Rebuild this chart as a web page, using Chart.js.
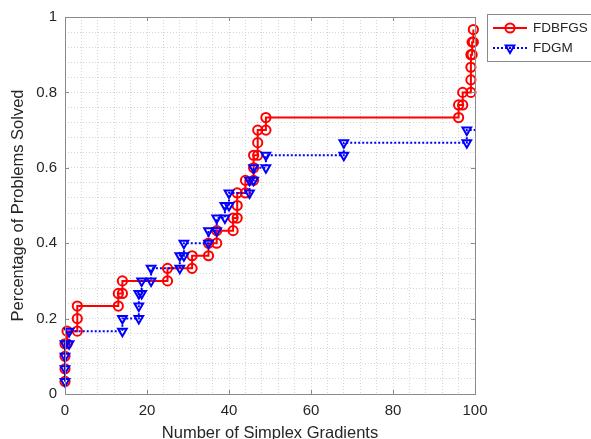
<!DOCTYPE html>
<html>
<head>
<meta charset="utf-8">
<script src="https://cdn.jsdelivr.net/npm/chart.js@4.4.1/dist/chart.umd.min.js"></script>
<style>
  html, body { margin: 0; padding: 0; background: #fff; }
  #wrap { width: 591px; height: 439px; }
</style>
</head>
<body>
<div id="wrap"><canvas id="perfChart" width="591" height="439"></canvas></div>
<script>
// stair corners of the two profiles
const fdbfgsX = [0, 0, 0, 0, 0.5, 0.5, 3, 3, 3, 13, 13, 14, 14, 25, 25, 31, 31, 35, 35, 37, 37, 41, 41, 42, 42, 42, 44, 44, 46, 46, 46, 47, 47, 47, 49, 49, 96, 96, 97, 97, 99, 99, 99, 99, 99.3, 99.3, 99.6, 99.6];
const fdbfgsY = [0.0333, 0.0667, 0.1, 0.1333, 0.1333, 0.1667, 0.1667, 0.2, 0.2333, 0.2333, 0.2667, 0.2667, 0.3, 0.3, 0.3333, 0.3333, 0.3667, 0.3667, 0.4, 0.4, 0.4333, 0.4333, 0.4667, 0.4667, 0.5, 0.5333, 0.5333, 0.5667, 0.5667, 0.6, 0.6333, 0.6333, 0.6667, 0.7, 0.7, 0.7333, 0.7333, 0.7667, 0.7667, 0.8, 0.8, 0.8333, 0.8667, 0.9, 0.9, 0.9333, 0.9333, 0.9667];

const fdgmX = [0, 0, 0, 0, 1, 1, 14, 14, 18, 18, 18, 18.7, 18.7, 21, 21, 28, 28, 29, 29, 35, 35, 37, 37, 39, 39, 40, 40, 45, 45, 46, 46, 49, 49, 68, 68, 98, 98, 100];
const fdgmY = [0.0333, 0.0667, 0.1, 0.1333, 0.1333, 0.1667, 0.1667, 0.2, 0.2, 0.2333, 0.2667, 0.2667, 0.3, 0.3, 0.3333, 0.3333, 0.3667, 0.3667, 0.4, 0.4, 0.4333, 0.4333, 0.4667, 0.4667, 0.5, 0.5, 0.5333, 0.5333, 0.5667, 0.5667, 0.6, 0.6, 0.6333, 0.6333, 0.6667, 0.6667, 0.7, 0.7];

const xTickLabels = [0, 20, 40, 60, 80, 100];
const yTickLabels = [0, 0.2, 0.4, 0.6, 0.8, 1];

const FONT = '"Liberation Sans", Arial, Helvetica, sans-serif';
const AXIS_GRAY = '#8a8a8a';
Chart.defaults.font.family = FONT;
Chart.defaults.color = '#262626';

const toPoints = (xs, ys) => xs.map((x, i) => ({ x: x, y: ys[i] }));
const isMajor = (v, list) => list.some(t => Math.abs(t - v) < 1e-6);

// box around the axes, inward major ticks and the legend
const framePlugin = {
  id: 'frame',
  afterDraw(chart) {
    const { ctx, chartArea: a, scales } = chart;
    ctx.save();
    ctx.strokeStyle = AXIS_GRAY;
    ctx.lineWidth = 1;
    ctx.setLineDash([]);
    ctx.strokeRect(Math.round(a.left) + 0.5, Math.round(a.top) + 0.5,
                   Math.round(a.right - a.left), Math.round(a.bottom - a.top));
    ctx.beginPath();
    xTickLabels.forEach(v => {
      const px = Math.round(scales.x.getPixelForValue(v)) + 0.5;
      ctx.moveTo(px, a.bottom); ctx.lineTo(px, a.bottom - 4);
      ctx.moveTo(px, a.top); ctx.lineTo(px, a.top + 4);
    });
    yTickLabels.forEach(v => {
      const py = Math.round(scales.y.getPixelForValue(v)) + 0.5;
      ctx.moveTo(a.left, py); ctx.lineTo(a.left + 4, py);
      ctx.moveTo(a.right, py); ctx.lineTo(a.right - 4, py);
    });
    ctx.stroke();

    // legend
    const lx = 487.5, ly = 14.5;
    ctx.fillStyle = '#fff';
    ctx.fillRect(lx, ly, 120, 47);
    ctx.strokeStyle = AXIS_GRAY;
    ctx.strokeRect(lx, ly, 120, 47);
    ctx.font = '13.5px ' + FONT;
    ctx.textBaseline = 'middle';
    chart.data.datasets.forEach((ds, i) => {
      const y = 28 + i * 20;
      ctx.strokeStyle = ds.borderColor;
      ctx.lineWidth = ds.borderWidth;
      ctx.setLineDash(ds.borderDash || []);
      ctx.beginPath();
      ctx.moveTo(493, y); ctx.lineTo(527, y);
      ctx.stroke();
      ctx.setLineDash([]);
      ctx.fillStyle = 'rgba(0,0,0,0)';
      ctx.lineWidth = ds.pointBorderWidth;
      Chart.helpers.drawPoint(ctx, {
        pointStyle: ds.pointStyle, rotation: ds.pointRotation,
        radius: ds.legendRadius, borderWidth: ds.pointBorderWidth
      }, 510, y);
      ctx.fillStyle = '#262626';
      ctx.fillText(ds.label, 533, y + 0.5);
    });
    ctx.restore();
  }
};

new Chart(document.getElementById('perfChart'), {
  type: 'line',
  data: {
    datasets: [{
      label: 'FDBFGS',
      data: toPoints(fdbfgsX, fdbfgsY),
      borderColor: '#ff0000',
      borderWidth: 2,
      pointStyle: 'circle',
      pointRadius: 4.6,
      legendRadius: 4.6,
      pointBorderWidth: 2,
      pointBackgroundColor: 'rgba(0,0,0,0)',
      pointBorderColor: '#ff0000',
      pointRotation: 0,
      tension: 0,
      order: 1,
      clip: 8
    }, {
      label: 'FDGM',
      data: toPoints(fdgmX, fdgmY),
      borderColor: '#0000ff',
      borderWidth: 2,
      borderDash: [2, 2],
      pointStyle: 'triangle',
      pointRotation: 180,
      pointRadius: ctx => ctx.dataIndex === fdgmX.length - 1 ? 0 : 5,
      legendRadius: 5,
      pointBorderWidth: 2,
      pointBackgroundColor: 'rgba(0,0,0,0)',
      pointBorderColor: '#0000ff',
      tension: 0,
      order: 0,
      clip: 8
    }]
  },
  options: {
    responsive: false,
    animation: false,
    events: [],
    layout: { padding: { left: 0, top: 14, right: 116, bottom: 0 } },
    plugins: { legend: { display: false }, tooltip: { enabled: false } },
    scales: {
      x: {
        type: 'linear',
        min: 0, max: 100,
        afterFit(scale) { scale.height = 45; },
        grid: { color: '#d4d4d4', lineWidth: 1, drawTicks: false },
        border: { display: false, dash: [1, 2] },
        ticks: {
          stepSize: 4, maxTicksLimit: 100, autoSkip: false, maxRotation: 0,
          padding: 8,
          font: { size: 15 },
          callback: v => isMajor(v, xTickLabels) ? String(Math.round(v)) : ''
        },
        title: {
          display: true, text: 'Number of Simplex Gradients',
          font: { size: 16.5 }, padding: { top: 0, bottom: -4.5 }
        }
      },
      y: {
        type: 'linear',
        min: 0, max: 1,
        afterFit(scale) { scale.width = 65; },
        grid: { color: '#d4d4d4', lineWidth: 1, drawTicks: false },
        border: { display: false, dash: [1, 2] },
        ticks: {
          stepSize: 0.04, maxTicksLimit: 100, autoSkip: false,
          padding: 8,
          font: { size: 15 },
          callback: v => isMajor(v, yTickLabels) ? String(Math.round(v * 10) / 10) : ''
        },
        title: {
          display: true, text: 'Percentage of Problems Solved',
          font: { size: 16.5 }, padding: { top: 9, bottom: 0 }
        }
      }
    }
  },
  plugins: [framePlugin]
});
</script>
</body>
</html>
